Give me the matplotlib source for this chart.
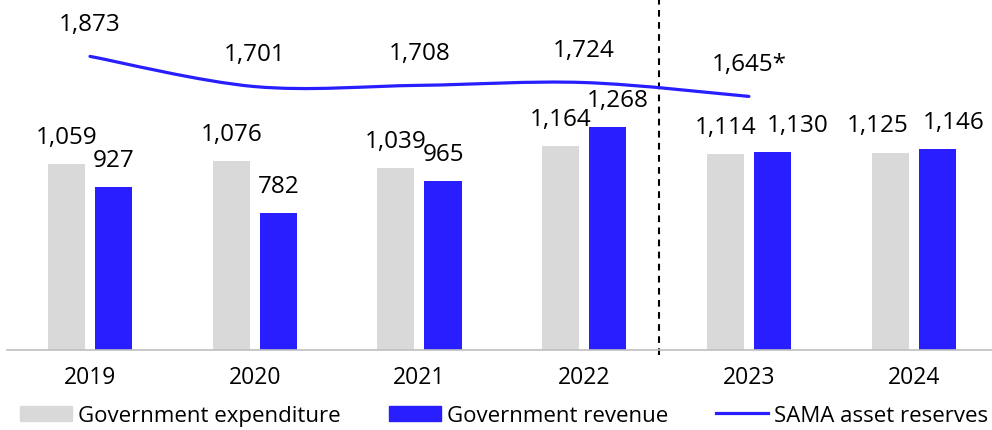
import matplotlib.pyplot as plt
from matplotlib.path import Path
from matplotlib.patches import PathPatch, Patch
from matplotlib.lines import Line2D
import numpy as np

plt.rcParams['font.family'] = ['Open Sans', 'DejaVu Sans']

years = ['2019', '2020', '2021', '2022', '2023', '2024']
expenditure = [1059, 1076, 1039, 1164, 1114, 1125]
revenue = [927, 782, 965, 1268, 1130, 1146]
reserves = [1873, 1701, 1708, 1724, 1645]
reserves_estimate = [False, False, False, False, True]

GREY = '#D9D9D9'
BLUE = '#281EFF'
FS_VAL = 17.5
FS_TICK = 16.5
FS_LEG = 16

fig = plt.figure(figsize=(9.92, 4.31), dpi=100)
ax = fig.add_axes([7 / 992, 80 / 431, 985 / 992, 351 / 431])
ax2 = ax.twinx()

x = np.arange(len(years))
w = 0.225
off = 0.143
ax.bar(x - off, expenditure, w, color=GREY, label='Government expenditure')
ax.bar(x + off, revenue, w, color=BLUE, label='Government revenue')

ax.set_xlim(-0.504, 5.476)
ax.set_ylim(0, 2000)
ax2.set_ylim(200, 2200)

# bar value labels (a few nudged sideways like the original)
exp_nudge = [0, 0, 0, 0, 0, -9]
rev_nudge = [0, 0, 0, 7, 18, 12]
for i in range(len(years)):
    ax.annotate(f"{expenditure[i]:,}", (x[i] - off, expenditure[i]),
                xytext=(exp_nudge[i], 19.5), textcoords='offset points',
                ha='center', va='center', fontsize=FS_VAL)
    ax.annotate(f"{revenue[i]:,}", (x[i] + off, revenue[i]),
                xytext=(rev_nudge[i], 19.5), textcoords='offset points',
                ha='center', va='center', fontsize=FS_VAL)

# smoothed reserves line (catmull-rom as bezier segments)
lx = x[:len(reserves)].astype(float)
ly = np.array(reserves, dtype=float)
pts = np.column_stack([lx, ly])
ext = np.vstack([pts[0], pts, pts[-1]])
verts = [tuple(pts[0])]
codes = [Path.MOVETO]
for i in range(len(pts) - 1):
    p0, p1, p2, p3 = ext[i], ext[i + 1], ext[i + 2], ext[i + 3]
    verts += [tuple(p1 + (p2 - p0) / 6), tuple(p2 - (p3 - p1) / 6), tuple(p2)]
    codes += [Path.CURVE4] * 3
ax2.add_patch(PathPatch(Path(verts, codes), facecolor='none', edgecolor=BLUE,
                        lw=2.3, capstyle='round'))

for xi, v, est in zip(lx, reserves, reserves_estimate):
    ax2.annotate(f"{v:,}" + ('*' if est else ''), (xi, v), xytext=(0, 23.5),
                 textcoords='offset points', ha='center', va='center', fontsize=FS_VAL)

# forecast divider
ax.axvline(3.455, ymin=-0.014, ymax=1, color='black', lw=1.5,
           linestyle=(0, (3.2, 2.6)), clip_on=False)

for a in (ax, ax2):
    for s in ['top', 'left', 'right', 'bottom']:
        a.spines[s].set_visible(False)
ax.spines['bottom'].set_visible(True)
ax.spines['bottom'].set_color('#BFBFBF')
ax.spines['bottom'].set_linewidth(1.2)
ax2.set_yticks([])
ax.set_yticks([])
ax.set_xticks(x)
ax.set_xticklabels(years, fontsize=FS_TICK)
ax.tick_params(axis='x', length=0, pad=11)

handles = [Patch(color=GREY), Patch(color=BLUE), Line2D([], [], color=BLUE, lw=2.3)]
labels = ['Government expenditure', 'Government revenue', 'SAMA asset reserves']
fig.legend(handles, labels, loc='center', bbox_to_anchor=(0.508, 0.033), ncol=3,
           frameon=False, fontsize=FS_LEG, handlelength=2.34, handleheight=0.7,
           handletextpad=0.27, columnspacing=2.16, borderpad=0, borderaxespad=0)

fig.savefig('out.png', dpi=100)
